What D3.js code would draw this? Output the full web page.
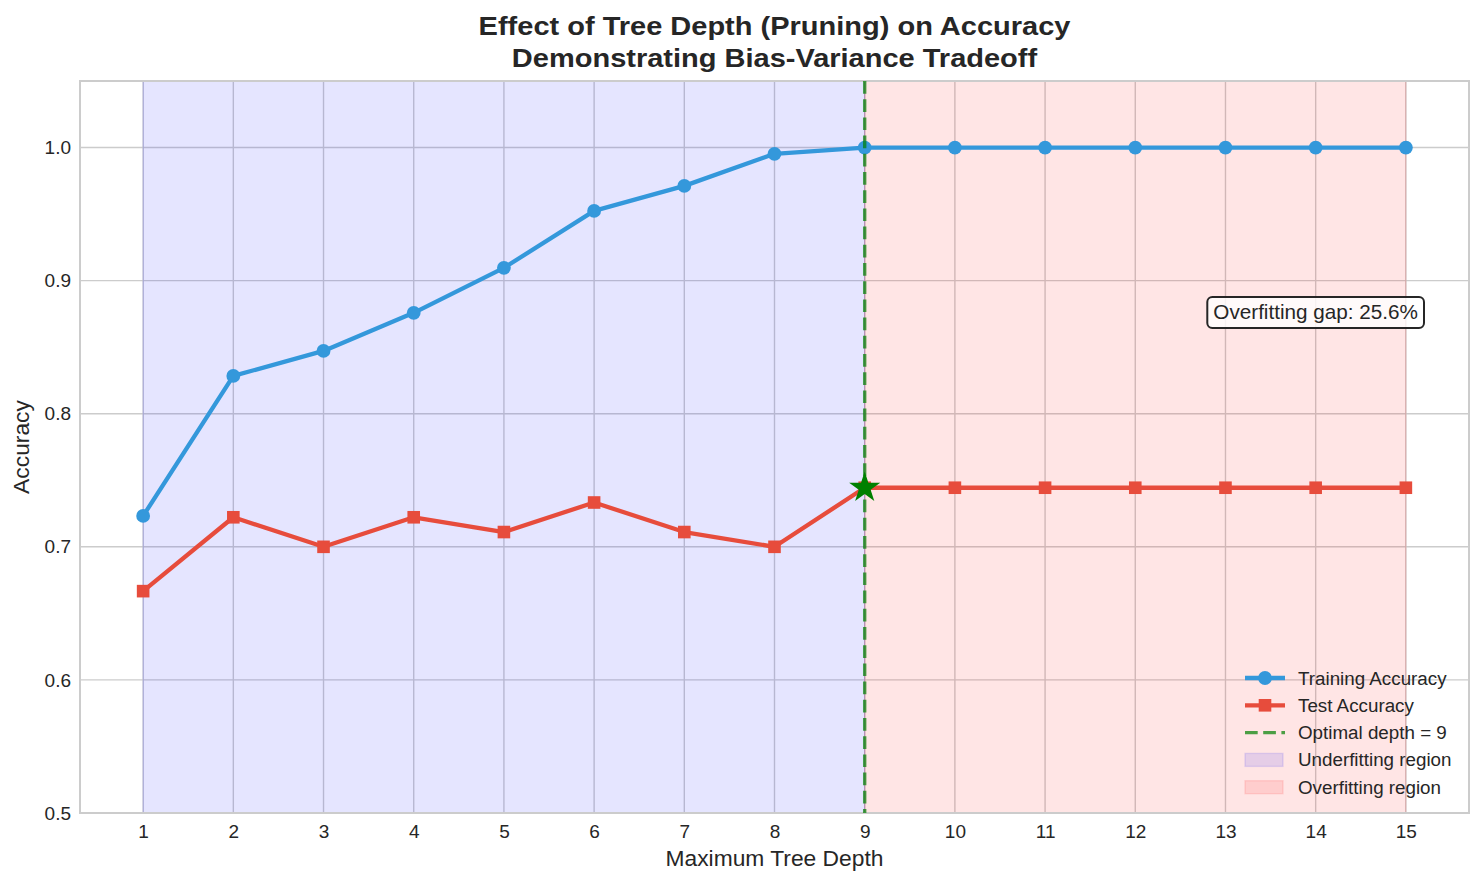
<!DOCTYPE html>
<html>
<head>
<meta charset="utf-8">
<script src="https://cdn.jsdelivr.net/npm/d3@7"></script>
<style>
  html, body { margin: 0; padding: 0; background: #fff; }
  svg { display: block; font-family: "Liberation Sans", Arial, sans-serif; }
</style>
</head>
<body>
<svg id="chart" width="1484" height="884"></svg>
<script>
const depths = [1, 2, 3, 4, 5, 6, 7, 8, 9, 10, 11, 12, 13, 14, 15];
const trainAcc = [0.7232, 0.8284, 0.8472, 0.8758, 0.9096, 0.9524, 0.9712, 0.9953, 1.0, 1.0, 1.0, 1.0, 1.0, 1.0, 1.0];
const testAcc = [0.6667, 0.7222, 0.7000, 0.7222, 0.7111, 0.7333, 0.7111, 0.7000, 0.7444, 0.7444, 0.7444, 0.7444, 0.7444, 0.7444, 0.7444];
const yTicks = [0.5, 0.6, 0.7, 0.8, 0.9, 1.0];
const optimalDepth = 9;
const gapText = "Overfitting gap: 25.6%";
const titleLines = ["Effect of Tree Depth (Pruning) on Accuracy", "Demonstrating Bias-Variance Tradeoff"];
const legendLabels = ["Training Accuracy", "Test Accuracy", "Optimal depth = 9", "Underfitting region", "Overfitting region"];

const svg = d3.select("#chart");
const L = 80, R = 1469, T = 81, B = 813;
const x = d3.scaleLinear().domain([0.3, 15.7]).range([L, R]);
const y = d3.scaleLinear().domain([0.5, 1.05]).range([B, T]);
const textColor = "#262626";
const blue = "#3498db", red = "#e74c3c";

// grid
const g = svg.append("g");
g.selectAll(".vg").data(depths).enter().append("line")
  .attr("x1", d => x(d)).attr("x2", d => x(d)).attr("y1", T).attr("y2", B)
  .attr("stroke", "#cccccc").attr("stroke-width", 1.4);
g.selectAll(".hg").data(yTicks).enter().append("line")
  .attr("x1", L).attr("x2", R).attr("y1", d => y(d)).attr("y2", d => y(d))
  .attr("stroke", "#cccccc").attr("stroke-width", 1.4);

// spans
const spans = [
  {x0: depths[0], x1: optimalDepth, c: "blue"},
  {x0: optimalDepth, x1: depths[depths.length - 1], c: "red"}
];
svg.selectAll(".span").data(spans).enter().append("rect")
  .attr("x", d => x(d.x0)).attr("width", d => x(d.x1) - x(d.x0))
  .attr("y", T).attr("height", B - T)
  .attr("fill", d => d.c).attr("fill-opacity", 0.1)
  .attr("stroke", d => d.c).attr("stroke-opacity", 0.1).attr("stroke-width", 1.4);

// frame
svg.append("rect").attr("x", L).attr("y", T).attr("width", R - L).attr("height", B - T)
  .attr("fill", "none").attr("stroke", "#cccccc").attr("stroke-width", 2);

// axes tick labels
const xAxis = d3.axisBottom(x).tickValues(depths).tickSize(0).tickPadding(12).tickFormat(d3.format("d"));
const xg = svg.append("g").attr("transform", `translate(0,${B})`).call(xAxis);
xg.select(".domain").remove();
xg.selectAll("text").attr("font-size", 19).attr("fill", textColor).attr("font-family", "Liberation Sans, Arial, sans-serif");

const yAxis = d3.axisLeft(y).tickValues(yTicks).tickSize(0).tickPadding(9).tickFormat(d3.format(".1f"));
const yg = svg.append("g").attr("transform", `translate(${L},0)`).call(yAxis);
yg.select(".domain").remove();
yg.selectAll("text").attr("font-size", 19).attr("fill", textColor).attr("font-family", "Liberation Sans, Arial, sans-serif");

// lines
const lineGen = d3.line().x((d, i) => x(depths[i])).y(d => y(d));
svg.append("path").datum(trainAcc).attr("d", lineGen)
  .attr("fill", "none").attr("stroke", blue).attr("stroke-width", 4.3).attr("stroke-linejoin", "round");
svg.selectAll(".tm").data(trainAcc).enter().append("circle")
  .attr("cx", (d, i) => x(depths[i])).attr("cy", d => y(d)).attr("r", 6.9).attr("fill", blue);

svg.append("path").datum(testAcc).attr("d", lineGen)
  .attr("fill", "none").attr("stroke", red).attr("stroke-width", 4.3).attr("stroke-linejoin", "round");
svg.selectAll(".sm").data(testAcc).enter().append("rect")
  .attr("x", (d, i) => x(depths[i]) - 6.3).attr("y", d => y(d) - 6.3)
  .attr("width", 12.6).attr("height", 12.6).attr("fill", red);

// optimal vline
svg.append("line").attr("x1", x(optimalDepth)).attr("x2", x(optimalDepth)).attr("y1", T).attr("y2", B)
  .attr("stroke", "green").attr("stroke-opacity", 0.7).attr("stroke-width", 3.4)
  .attr("stroke-dasharray", "12.7,5.5");

// star
const star = d3.symbol().type(d3.symbolStar).size(300);
svg.append("path").attr("d", star())
  .attr("transform", `translate(${x(optimalDepth)},${y(testAcc[depths.indexOf(optimalDepth)])})`)
  .attr("fill", "green");

// annotation
const ann = svg.append("g");
const annText = ann.append("text").attr("x", 1418).attr("y", 312).attr("dy", "0.35em")
  .attr("text-anchor", "end").attr("font-size", 20.7).attr("fill", textColor).text(gapText);
const bb = annText.node().getBBox();
ann.insert("rect", "text").attr("x", bb.x - 6).attr("y", 297).attr("width", bb.width + 12).attr("height", 31)
  .attr("rx", 5).attr("fill", "white").attr("fill-opacity", 0.8).attr("stroke", textColor).attr("stroke-width", 2);

// title
svg.selectAll(".title").data(titleLines).enter().append("g")
  .attr("transform", (d, i) => `translate(${(L + R) / 2},${35 + i * 31.5}) scale(1.095,1)`)
  .append("text").attr("x", 0).attr("y", 0).attr("text-anchor", "middle")
  .attr("font-size", 26.5).attr("font-weight", "bold").attr("fill", textColor).text(d => d);

// axis labels
svg.append("text").attr("x", (L + R) / 2).attr("y", 866).attr("text-anchor", "middle")
  .attr("font-size", 22.8).attr("fill", textColor).text("Maximum Tree Depth");
svg.append("text").attr("transform", `translate(29,${(T + B) / 2}) rotate(-90)`).attr("text-anchor", "middle")
  .attr("font-size", 22.8).attr("fill", textColor).text("Accuracy");

// legend
const lg = svg.append("g").attr("transform", "translate(1245,678)");
const rowH = 27.3;
legendLabels.forEach((lab, i) => {
  const gy = i * rowH;
  const row = lg.append("g").attr("transform", `translate(0,${gy})`);
  if (i === 0 || i === 1) {
    const c = i === 0 ? blue : red;
    row.append("line").attr("x1", 0).attr("x2", 40).attr("y1", 0).attr("y2", 0)
      .attr("stroke", c).attr("stroke-width", 4.3);
    if (i === 0) row.append("circle").attr("cx", 20).attr("cy", 0).attr("r", 6.9).attr("fill", c);
    else row.append("rect").attr("x", 20 - 6.3).attr("y", -6.3).attr("width", 12.6).attr("height", 12.6).attr("fill", c);
  } else if (i === 2) {
    row.append("line").attr("x1", 0).attr("x2", 40).attr("y1", 0).attr("y2", 0)
      .attr("stroke", "green").attr("stroke-opacity", 0.7).attr("stroke-width", 3.4)
      .attr("stroke-dasharray", "12.7,5.5");
  } else {
    const c = i === 3 ? "blue" : "red";
    row.append("rect").attr("x", 0).attr("y", -6.5).attr("width", 38).attr("height", 13)
      .attr("fill", c).attr("fill-opacity", 0.1).attr("stroke", c).attr("stroke-opacity", 0.1).attr("stroke-width", 1.4);
  }
  row.append("text").attr("x", 53).attr("y", 0).attr("dy", "0.35em")
    .attr("font-size", 18.8).attr("fill", textColor).text(lab);
});
</script>
</body>
</html>
